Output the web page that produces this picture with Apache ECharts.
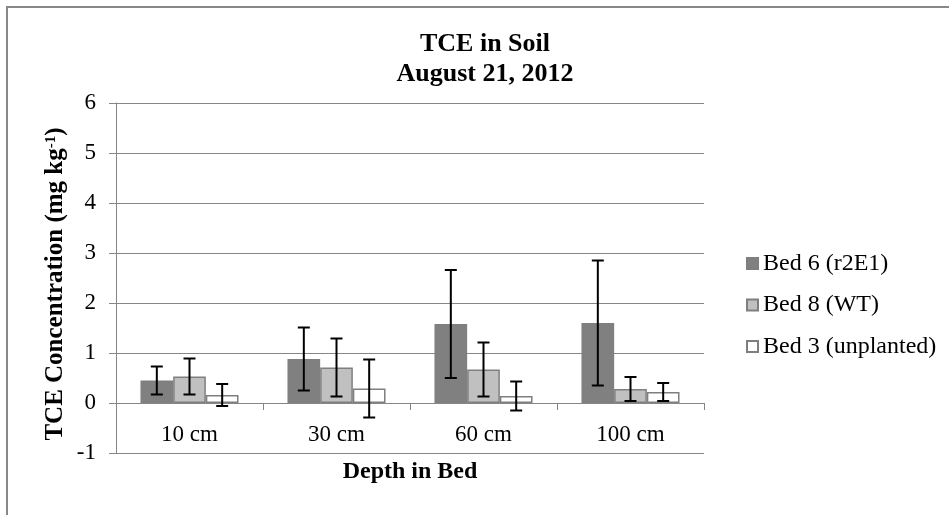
<!DOCTYPE html>
<html>
<head>
<meta charset="utf-8">
<script src="https://cdn.jsdelivr.net/npm/echarts@6/dist/echarts.min.js"></script>
<style>
html,body{margin:0;padding:0;background:#fff;}
#chart{width:949px;height:515px;}
</style>
</head>
<body>
<div id="chart"></div>
<script>
var categories = ['10 cm', '30 cm', '60 cm', '100 cm'];
var seriesNames = ['Bed 6 (r2E1)', 'Bed 8 (WT)', 'Bed 3 (unplanted)'];
var bed6 = [0.45, 0.88, 1.58, 1.60];
var bed6Err = [0.28, 0.63, 1.08, 1.25];
var bed8 = [0.53, 0.71, 0.67, 0.28];
var bed8Err = [0.36, 0.58, 0.54, 0.24];
var bed3 = [0.16, 0.29, 0.14, 0.22];
var bed3Err = [0.22, 0.58, 0.29, 0.18];
var yTicks = [-1, 0, 1, 2, 3, 4, 5, 6];

var FONT = "'Liberation Serif', 'Times New Roman', serif";
var GRID = '#868686';
var fills = ['#808080', '#c0c0c0', '#ffffff'];
var values = [bed6, bed8, bed3];
var errs = [bed6Err, bed8Err, bed3Err];
var CAT_GAP = 0.333;

var chart = echarts.init(document.getElementById('chart'));

var series = [];
seriesNames.forEach(function (name, i) {
  series.push({
    name: name,
    type: 'bar',
    data: values[i],
    barGap: '0%',
    barCategoryGap: '33.3%',
    itemStyle: { color: fills[i], borderColor: '#7f7f7f', borderWidth: 1.5 },
    emphasis: { disabled: true },
    animation: false,
    z: 2
  });
});
seriesNames.forEach(function (name, i) {
  var d = values[i].map(function (v, k) { return [k, v, errs[i][k]]; });
  series.push({
    type: 'custom',
    name: name + ' err',
    data: d,
    z: 5,
    animation: false,
    silent: true,
    renderItem: function (params, api) {
      var k = api.value(0), m = api.value(1), e = api.value(2);
      var catW = api.size([1, 0])[0];
      var bw = catW * (1 - CAT_GAP) / 3;
      var c = api.coord([k, m]);
      var x = c[0] + (i - 1) * bw;
      var yt = api.coord([k, m + e])[1];
      var yb = api.coord([k, m - e])[1];
      var hw = 6;
      var st = { stroke: '#000', lineWidth: 2 };
      return {
        type: 'group',
        children: [
          { type: 'line', shape: { x1: x, y1: yt, x2: x, y2: yb }, style: st },
          { type: 'line', shape: { x1: x - hw, y1: yt, x2: x + hw, y2: yt }, style: st },
          { type: 'line', shape: { x1: x - hw, y1: yb, x2: x + hw, y2: yb }, style: st }
        ]
      };
    }
  });
});

var legendTops = [251.5, 293, 334.5];
var legends = seriesNames.map(function (name, i) {
  return {
    data: [{ name: name, icon: 'rect' }],
    left: 746,
    top: legendTops[i],
    padding: 0,
    itemWidth: 11,
    itemHeight: 11,
    selectedMode: false,
    textStyle: { fontFamily: FONT, fontSize: 24, color: '#000', lineHeight: 24 }
  };
});

chart.setOption({
  backgroundColor: '#fff',
  animation: false,
  textStyle: { fontFamily: FONT },
  title: {
    text: 'TCE in Soil\nAugust 21, 2012',
    left: 485,
    top: 29,
    textAlign: 'center',
    padding: 0,
    textStyle: { fontFamily: FONT, fontSize: 26, fontWeight: 'bold', color: '#000', lineHeight: 30 }
  },
  legend: legends,
  grid: { left: 116, right: 245, top: 103, bottom: 62, containLabel: false },
  xAxis: {
    type: 'category',
    data: categories,
    axisLine: { onZero: true, lineStyle: { color: GRID, width: 1 } },
    axisTick: { show: true, length: 7, lineStyle: { color: GRID } },
    axisLabel: { fontFamily: FONT, fontSize: 23, color: '#000', margin: -30 },
    splitLine: { show: false }
  },
  yAxis: {
    type: 'value',
    min: yTicks[0],
    max: yTicks[yTicks.length - 1],
    interval: 1,
    axisLine: { show: true, onZero: false, lineStyle: { color: GRID, width: 1 } },
    axisTick: { show: true, length: 7, lineStyle: { color: GRID } },
    axisLabel: { fontFamily: FONT, fontSize: 23, color: '#000', margin: 20 },
    splitLine: { show: true, lineStyle: { color: GRID, width: 1 } }
  },
  graphic: [
    {
      type: 'rect',
      shape: { x: 7, y: 7, width: 1200, height: 800 },
      style: { fill: 'none', stroke: '#888', lineWidth: 2 },
      silent: true,
      z: -1
    },
    {
      type: 'text',
      x: 56, y: 284,
      rotation: Math.PI / 2,
      style: {
        text: '{b|TCE Concentration (mg kg}{s|-1}{b|)}',
        align: 'center',
        verticalAlign: 'middle',
        rich: {
          b: { fontFamily: FONT, fontSize: 25, fontWeight: 'bold', fill: '#000' },
          s: { fontFamily: FONT, fontSize: 15, fontWeight: 'bold', fill: '#000', verticalAlign: 'top', padding: [0, 0, 10, 0] }
        }
      }
    },
    {
      type: 'text',
      x: 410, y: 472,
      style: {
        text: 'Depth in Bed',
        align: 'center',
        verticalAlign: 'middle',
        fontFamily: FONT, fontSize: 24, fontWeight: 'bold', fill: '#000'
      }
    }
  ],
  series: series
});
</script>
</body>
</html>
